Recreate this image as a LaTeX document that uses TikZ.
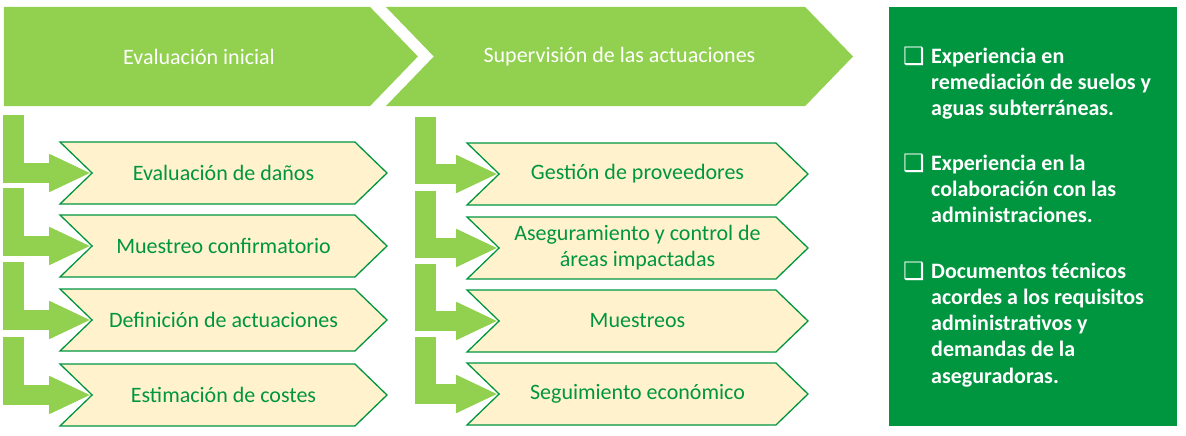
\documentclass[tikz,border=0pt]{standalone}
\usepackage{fontspec}
\setmainfont{Carlito}
\newfontfamily\boxglyph{DejaVu Sans}
\usetikzlibrary{shapes.symbols, arrows.meta, calc, positioning}

\definecolor{lgreen}{HTML}{92D050}
\definecolor{dgreen}{HTML}{009640}
\definecolor{cream}{HTML}{FFF2CC}

\begin{document}
\begin{tikzpicture}[x=1pt, y=-1pt,
  phase/.style={signal, signal to=east, signal pointer angle=92,
                fill=lgreen, draw=none, text=white, inner sep=0pt,
                minimum height=99pt, font=\fontsize{22}{26}\selectfont},
  task/.style={signal, signal from=west, signal to=east, signal pointer angle=88,
               fill=cream, draw=dgreen, line width=1.3pt, text=dgreen,
               inner sep=0pt, minimum height=62pt, align=center,
               font=\fontsize{22}{26}\selectfont},
  bent/.style={lgreen, line width=20.5pt, -{Triangle[width=35pt,length=42pt]}},
  panel/.style={rectangle, fill=dgreen, draw=none, minimum width=288pt,
                minimum height=419pt, inner sep=0pt},
  point/.style={text=white, font=\bfseries\fontsize{22}{26.3}\selectfont,
                align=left, inner sep=0pt, anchor=base west},
  tick/.style={text=white, font=\boxglyph\fontsize{24}{26}\selectfont,
               inner sep=0pt, anchor=base west}
]
\useasboundingbox (0,0) rectangle (1186,436);

%% ---- Phases ----
\node[phase, minimum width=414pt] (eval) at (187,56.5)
  {\hspace*{24pt}Evaluación inicial};
\node[phase, signal from=west, minimum width=467pt] (superv) at (619.5,56.5)
  {Supervisión de las actuaciones};

%% ---- Column 1: evaluation tasks ----
\node[task, minimum width=327pt] (e1) at (223.5,173) {Evaluación de daños};
\node[task, minimum width=327pt] (e2) at (223.5,246) {Muestreo confirmatorio};
\node[task, minimum width=327pt] (e3) at (223.5,320) {Definición de actuaciones};
\node[task, minimum width=327pt] (e4) at (223.5,395) {Estimación de costes};

%% ---- Column 2: supervision tasks ----
\node[task, minimum width=341pt] (s1) at (637.5,174) {Gestión de proveedores};
\node[task, minimum width=341pt] (s2) at (637.5,248)
  {Aseguramiento y control de\\áreas impactadas};
\node[task, minimum width=341pt] (s3) at (637.5,321) {Muestreos};
\node[task, minimum width=341pt] (s4) at (637.5,394) {Seguimiento económico};

%% ---- Bent arrows into the tasks ----
\foreach \t in {e1,e2,e3,e4}
  \draw[bent] ($(\t.west)+(-77.5,-58)$) |- (\t.west);
\foreach \t in {s1,s2,s3,s4}
  \draw[bent] ($(\t.west)+(-72.5,-57)$) |- (\t.west);

%% ---- Strengths panel ----
\node[panel] (strengths) at (1033,216.5) {};
% base of a multi-line point is its last line
\node[tick] (k1) at (903,64) {❑};
\node[point] (p1) at (931,115.6) {Experiencia en\\remediación de suelos y\\aguas subterráneas.};
\node[tick] (k2) at (903,171) {❑};
\node[point] (p2) at (931,222.6) {Experiencia en la\\colaboración con las\\administraciones.};
\node[tick] (k3) at (903,279) {❑};
\node[point] (p3) at (931,383.2) {Documentos técnicos\\acordes a los requisitos\\administrativos y\\demandas de la\\aseguradoras.};

\end{tikzpicture}
\end{document}
